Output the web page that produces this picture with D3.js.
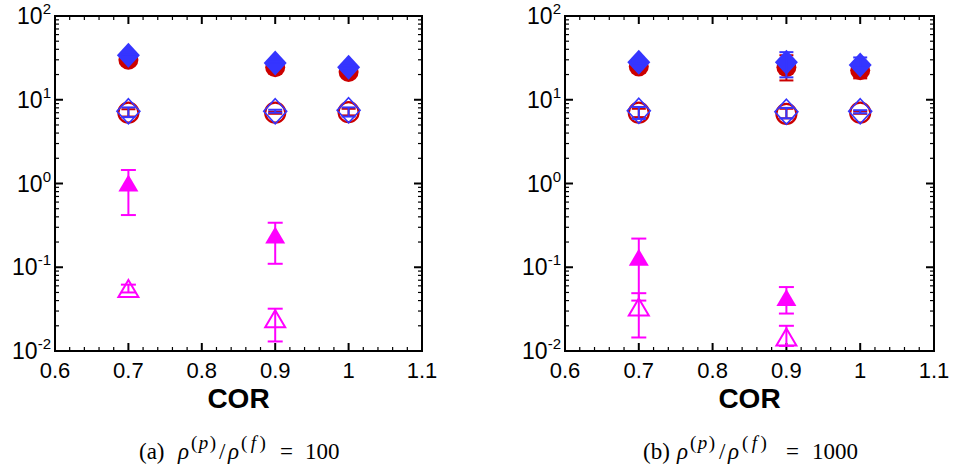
<!DOCTYPE html>
<html><head><meta charset="utf-8">
<script src="https://cdn.jsdelivr.net/npm/d3@7"></script>
<style>body{margin:0;background:#fff}svg{display:block}</style>
</head><body>
<svg id="c" width="953" height="472"></svg>
<script>
// ---------- data ----------
const cor = [0.7, 0.9, 1.0];
const corTri = [0.7, 0.9];
const xTicks = [0.6, 0.7, 0.8, 0.9, 1.0, 1.1];
const xTickLabels = ["0.6", "0.7", "0.8", "0.9", "1", "1.1"];
const yTickExps = [2, 1, 0, -1, -2];

// panel (a) rho_p/rho_f = 100
const aFilledCircle = [30, 24.5, 21.5];
const aFilledCircleLo = [29, 23.5, 20.5];
const aFilledCircleHi = [31, 25.5, 22.5];
const aFilledDiamond = [34, 27.5, 24.5];
const aFilledDiamondLo = [33, 26.5, 23.5];
const aFilledDiamondHi = [35, 28.5, 25.5];
const aOpenCircle = [7.0, 7.0, 7.1];
const aOpenCircleLo = [6.3, 6.8, 6.5];
const aOpenCircleHi = [7.7, 7.2, 7.8];
const aOpenDiamond = [7.3, 7.3, 7.5];
const aOpenDiamondLo = [6.2, 7.0, 6.3];
const aOpenDiamondHi = [8.1, 7.6, 8.1];
const aFilledTri = [1.0, 0.24];
const aFilledTriLo = [0.42, 0.11];
const aFilledTriHi = [1.45, 0.34];
const aOpenTri = [0.055, 0.024];
const aOpenTriLo = [0.050, 0.013];
const aOpenTriHi = [0.062, 0.032];

// panel (b) rho_p/rho_f = 1000
const bFilledCircle = [25, 24.5, 22.5];
const bFilledCircleLo = [24, 17, 18];
const bFilledCircleHi = [26, 34, 28];
const bFilledDiamond = [28, 28, 26];
const bFilledDiamondLo = [27, 18.5, 24];
const bFilledDiamondHi = [29, 37, 32];
const bOpenCircle = [7.0, 6.8, 7.0];
const bOpenCircleLo = [6.2, 6.0, 6.8];
const bOpenCircleHi = [7.8, 7.8, 7.3];
const bOpenDiamond = [7.4, 7.2, 7.3];
const bOpenDiamondLo = [5.9, 6.0, 6.9];
const bOpenDiamondHi = [8.2, 8.0, 7.5];
const bFilledTri = [0.13, 0.043];
const bFilledTriLo = [0.04, 0.028];
const bFilledTriHi = [0.22, 0.058];
const bOpenTri = [0.033, 0.0145];
const bOpenTriLo = [0.0145, 0.0115];
const bOpenTriHi = [0.049, 0.020];

const RED = "#cc0000", BLUE = "#3535ff", MAG = "#ff00ff";

const panels = [
  {x0: 55, x1: 422, tag: "(a)", ratio: "100", capX: [139, 178, 191, 219, 228, 241, 280, 305],
   fc: [aFilledCircle, aFilledCircleLo, aFilledCircleHi],
   fd: [aFilledDiamond, aFilledDiamondLo, aFilledDiamondHi],
   oc: [aOpenCircle, aOpenCircleLo, aOpenCircleHi],
   od: [aOpenDiamond, aOpenDiamondLo, aOpenDiamondHi],
   ft: [aFilledTri, aFilledTriLo, aFilledTriHi],
   ot: [aOpenTri, aOpenTriLo, aOpenTriHi]},
  {x0: 565, x1: 934, tag: "(b)", ratio: "1000", capX: [643, 677, 690, 719, 728, 742, 786, 812],
   fc: [bFilledCircle, bFilledCircleLo, bFilledCircleHi],
   fd: [bFilledDiamond, bFilledDiamondLo, bFilledDiamondHi],
   oc: [bOpenCircle, bOpenCircleLo, bOpenCircleHi],
   od: [bOpenDiamond, bOpenDiamondLo, bOpenDiamondHi],
   ft: [bFilledTri, bFilledTriLo, bFilledTriHi],
   ot: [bOpenTri, bOpenTriLo, bOpenTriHi]}
];

const svg = d3.select("#c");
const Y0 = 16, Y1 = 351;
const SANS = "Liberation Sans, Arial, sans-serif";
const SERIF = "Liberation Serif, DejaVu Serif, serif";

panels.forEach(p => {
  const x = d3.scaleLinear().domain([0.6, 1.1]).range([p.x0, p.x1]);
  const y = d3.scaleLog().domain([0.01, 100]).range([Y1, Y0]);
  const g = svg.append("g");

  const tk = g.append("g").attr("stroke", "#000");
  const xMinor = d3.range(0.6, 1.1001, 0.02);
  xMinor.forEach(v => {
    const isMajor = Math.abs(v * 10 - Math.round(v * 10)) < 1e-6;
    const L = isMajor ? 8 : 4;
    const w = isMajor ? 2 : 1.2;
    tk.append("line").attr("x1", x(v)).attr("x2", x(v)).attr("y1", Y1).attr("y2", Y1 - L).attr("stroke-width", w);
    tk.append("line").attr("x1", x(v)).attr("x2", x(v)).attr("y1", Y0).attr("y2", Y0 + L).attr("stroke-width", w);
  });
  for (let e = -2; e <= 1; e++) {
    for (let m = 1; m <= 9; m++) {
      const v = m * Math.pow(10, e);
      const L = m === 1 ? 8 : 4;
      const w = m === 1 ? 2 : 1.2;
      tk.append("line").attr("x1", p.x0).attr("x2", p.x0 + L).attr("y1", y(v)).attr("y2", y(v)).attr("stroke-width", w);
      tk.append("line").attr("x1", p.x1).attr("x2", p.x1 - L).attr("y1", y(v)).attr("y2", y(v)).attr("stroke-width", w);
    }
  }
  g.append("rect").attr("x", p.x0).attr("y", Y0).attr("width", p.x1 - p.x0).attr("height", Y1 - Y0)
    .attr("fill", "none").attr("stroke", "#000").attr("stroke-width", 2);

  g.selectAll(".xl").data(xTicks).enter().append("text")
    .attr("x", d => x(d)).attr("y", Y1 + 27)
    .attr("text-anchor", "middle").attr("font-family", SANS)
    .attr("font-size", 22).text((d, i) => xTickLabels[i]);

  yTickExps.forEach(e => {
    const t = g.append("text").attr("x", p.x0 - 4).attr("y", y(Math.pow(10, e)) + 8)
      .attr("text-anchor", "end").attr("font-family", SANS).attr("font-size", 23);
    t.append("tspan").text("10");
    t.append("tspan").attr("font-size", 15).attr("dy", -10).text(String(e));
  });

  g.append("text").attr("x", (p.x0 + p.x1) / 2).attr("y", 408).attr("text-anchor", "middle")
    .attr("font-family", SANS).attr("font-weight", "bold").attr("font-size", 28).text("COR");

  // caption pieces
  const cx = p.capX, CB = 459, FS = 23, SS = 19;
  const ct = (xx, yy, txt, fs, it) => g.append("text").attr("x", xx).attr("y", yy)
    .attr("font-family", SERIF).attr("font-size", fs).attr("font-style", it ? "italic" : "normal").text(txt);
  ct(cx[0], CB, p.tag, FS, false);
  ct(cx[1], CB, "ρ", FS, true);
  const s1 = g.append("text").attr("x", cx[2]).attr("y", CB - 10).attr("font-family", SERIF)
    .attr("font-size", SS).attr("letter-spacing", 1.5);
  s1.append("tspan").text("(");
  s1.append("tspan").attr("font-style", "italic").text("p");
  s1.append("tspan").text(")");
  ct(cx[3], CB, "/", FS, false);
  ct(cx[4], CB, "ρ", FS, true);
  const s2 = g.append("text").attr("x", cx[5]).attr("y", CB - 10).attr("font-family", SERIF)
    .attr("font-size", SS).attr("letter-spacing", 3.5);
  s2.append("tspan").text("(");
  s2.append("tspan").attr("font-style", "italic").text("f");
  s2.append("tspan").text(")");
  ct(cx[6], CB, "=", FS, false);
  ct(cx[7], CB, p.ratio, FS, false);

  const mk = g.append("g");
  function errbars(xs, arr, color, capW, sw) {
    const [v, lo, hi] = arr;
    xs.forEach((c, i) => {
      const px = x(c);
      mk.append("line").attr("x1", px).attr("x2", px).attr("y1", y(lo[i])).attr("y2", y(hi[i]))
        .attr("stroke", color).attr("stroke-width", sw);
      [lo[i], hi[i]].forEach(b => mk.append("line").attr("x1", px - capW / 2).attr("x2", px + capW / 2)
        .attr("y1", y(b)).attr("y2", y(b)).attr("stroke", color).attr("stroke-width", sw));
    });
  }
  const circle = (xs, vals, fill, stroke, sw) => xs.forEach((c, i) =>
    mk.append("circle").attr("cx", x(c)).attr("cy", y(vals[i])).attr("r", 10)
      .attr("fill", fill).attr("stroke", stroke).attr("stroke-width", sw));
  const diamond = (xs, vals, fill, stroke, sw) => xs.forEach((c, i) => {
    const px = x(c), py = y(vals[i]);
    mk.append("path").attr("d", `M${px},${py - 12.5}L${px + 11.5},${py}L${px},${py + 12.5}L${px - 11.5},${py}Z`)
      .attr("fill", fill).attr("stroke", stroke).attr("stroke-width", sw);
  });
  const tri = (xs, vals, fill, stroke, sw) => xs.forEach((c, i) => {
    const px = x(c), py = y(vals[i]);
    mk.append("path").attr("d", `M${px},${py - 9}L${px + 10},${py + 8}L${px - 10},${py + 8}Z`)
      .attr("fill", fill).attr("stroke", stroke).attr("stroke-width", sw);
  });

  circle(cor, p.fc[0], RED, "none", 0);
  errbars(cor, p.fc, RED, 14, 2);
  diamond(cor, p.fd[0], BLUE, "none", 0);
  errbars(cor, p.fd, BLUE, 14, 2);
  circle(cor, p.oc[0], "none", RED, 2.2);
  errbars(cor, p.oc, RED, 14, 2);
  diamond(cor, p.od[0], "none", BLUE, 1.6);
  errbars(cor, p.od, BLUE, 14, 2);
  tri(corTri, p.ft[0], MAG, "none", 0);
  errbars(corTri, p.ft, MAG, 15, 2);
  tri(corTri, p.ot[0], "none", MAG, 2);
  errbars(corTri, p.ot, MAG, 15, 2);
});
</script>
</body></html>
